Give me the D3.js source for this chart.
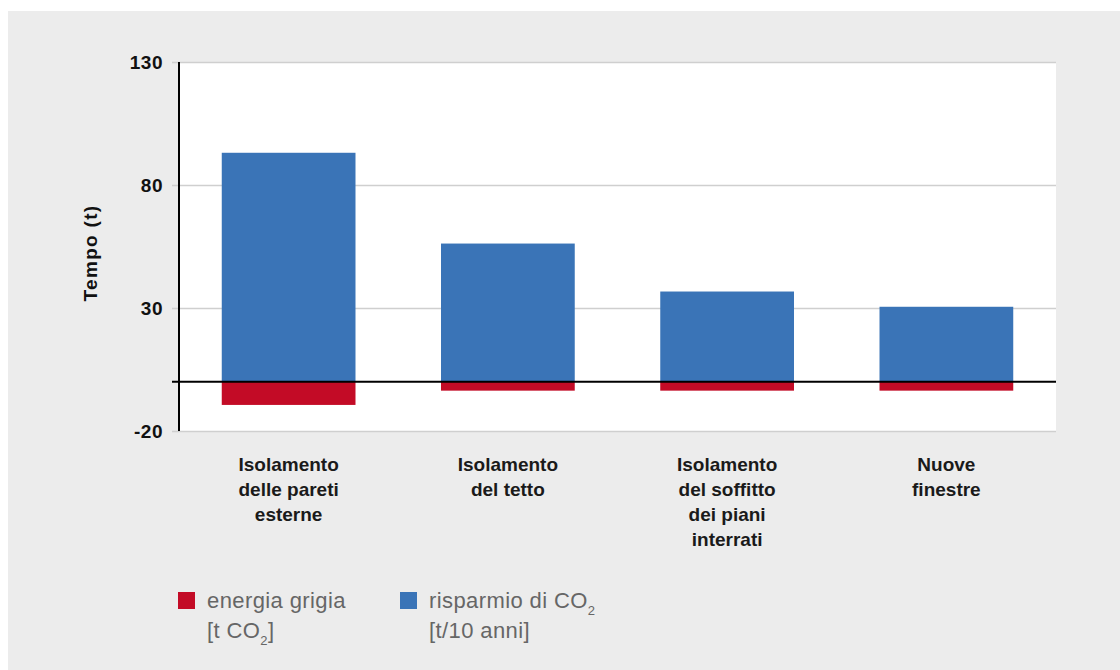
<!DOCTYPE html>
<html>
<head>
<meta charset="utf-8">
<script src="https://cdn.jsdelivr.net/npm/d3@7"></script>
<style>
  body { margin: 0; background: #fff; }
  svg { display: block; font-family: "Liberation Sans", Arial, sans-serif; }
</style>
</head>
<body>
<div id="chart"></div>
<script>
// data
const categories = [
    ["Isolamento", "delle pareti", "esterne"],
    ["Isolamento", "del tetto"],
    ["Isolamento", "del soffitto", "dei piani", "interrati"],
    ["Nuove", "finestre"]
]
const risparmio = [93.1, 56.2, 36.7, 30.5]   // t/10 anni
const energiaGrigia = [-9.4, -3.6, -3.6, -3.6] // t CO2
const yTicks = [130, 80, 30, -20]

const width = 1120
const height = 670
const margin = { left: 179, right: 1056, top: 62, bottom: 431 }

const blue = "#3a74b7"
const red = "#c30b26"

const svg = d3.select("#chart").append("svg")
    .attr("width", width)
    .attr("height", height)

//grey panel
svg.append("rect")
    .attr("x", 8).attr("y", 11)
    .attr("width", width - 8).attr("height", height - 11)
    .attr("fill", "#ececec")

svg.append("rect")
    .attr("x", margin.left).attr("y", margin.top)
    .attr("width", margin.right - margin.left).attr("height", margin.bottom - margin.top)
    .attr("fill", "#fff")

const x = d3.scaleBand()
    .domain(d3.range(categories.length))
    .range([margin.left, margin.right])
    .paddingInner(0.39)
    .paddingOuter(0.195)

const y = d3.scaleLinear().domain([-20, 130]).range([margin.bottom, margin.top])

//gridlines + ticks
const yAxis = svg.append("g")
    .attr("transform", `translate(${margin.left}, 0)`)
    .call(d3.axisLeft(y).tickValues(yTicks).tickSize(7).tickPadding(9).tickFormat(d => String(d)))
yAxis.select(".domain").remove()
yAxis.selectAll(".tick line").attr("stroke", "#cfcfcf").attr("stroke-width", 1.5)
yAxis.selectAll(".tick").append("line")
    .attr("x1", 0).attr("x2", margin.right - margin.left)
    .attr("stroke", "#cfcfcf").attr("stroke-width", 1.5)
yAxis.selectAll(".tick text")
    .attr("fill", "#111")
    .attr("dy", "0.35em")
    .style("font-size", "19px")
    .style("font-weight", "bold")
    .style("letter-spacing", "0.5px")
    .style("font-family", "Liberation Sans, Arial, sans-serif")

//bars
svg.append("g").selectAll("rect.blue")
    .data(risparmio)
    .join("rect")
    .attr("x", (d, i) => x(i))
    .attr("width", x.bandwidth())
    .attr("y", d => y(d))
    .attr("height", d => y(0) - y(d))
    .attr("fill", blue)

svg.append("g").selectAll("rect.red")
    .data(energiaGrigia)
    .join("rect")
    .attr("x", (d, i) => x(i))
    .attr("width", x.bandwidth())
    .attr("y", y(0))
    .attr("height", d => y(d) - y(0))
    .attr("fill", red)

//zero line and y axis line
svg.append("line")
    .attr("x1", margin.left - 7).attr("x2", margin.right)
    .attr("y1", y(0)).attr("y2", y(0))
    .attr("stroke", "#000").attr("stroke-width", 2)
svg.append("line")
    .attr("x1", margin.left).attr("x2", margin.left)
    .attr("y1", margin.top).attr("y2", margin.bottom)
    .attr("stroke", "#000").attr("stroke-width", 2)

//axis title
svg.append("text")
    .attr("transform", `translate(97, 253) rotate(-90)`)
    .attr("text-anchor", "middle")
    .style("font-size", "19px")
    .style("font-weight", "bold")
    .style("letter-spacing", "1.3px")
    .attr("fill", "#111")
    .text("Tempo (t)")

//category labels
const catG = svg.append("g").selectAll("text")
    .data(categories)
    .join("text")
    .attr("text-anchor", "middle")
    .attr("x", (d, i) => x(i) + x.bandwidth() / 2)
    .attr("y", 471)
    .attr("fill", "#1a1a1a")
    .style("font-size", "19px")
    .style("font-weight", "bold")
catG.selectAll("tspan")
    .data(d => d)
    .join("tspan")
    .attr("x", function () { return this.parentNode.getAttribute("x") })
    .attr("dy", (d, i) => i === 0 ? 0 : 25)
    .text(d => d)

//legend
const legendItems = [
    { color: red, x: 178, lines: [["energia grigia"], ["[t CO", "2", "]"]] },
    { color: blue, x: 400, lines: [["risparmio di CO", "2"], ["[t/10 anni]"]] }
]
const legend = svg.append("g").selectAll("g")
    .data(legendItems)
    .join("g")
    .attr("transform", d => `translate(${d.x}, 592)`)
legend.append("rect")
    .attr("width", 17).attr("height", 17)
    .attr("fill", d => d.color)
const legText = legend.selectAll("text")
    .data(d => d.lines)
    .join("text")
    .attr("x", 29)
    .attr("y", (d, i) => 16 + i * 30)
    .attr("fill", "#666")
    .style("font-size", "22px")
    .style("letter-spacing", "0.4px")
legText.selectAll("tspan")
    .data(d => d)
    .join("tspan")
    .attr("dy", (d, i) => i === 1 ? 7 : (i === 2 ? -7 : 0))
    .style("font-size", (d, i) => i === 1 ? "13px" : "22px")
    .text(d => d)
</script>
</body>
</html>
